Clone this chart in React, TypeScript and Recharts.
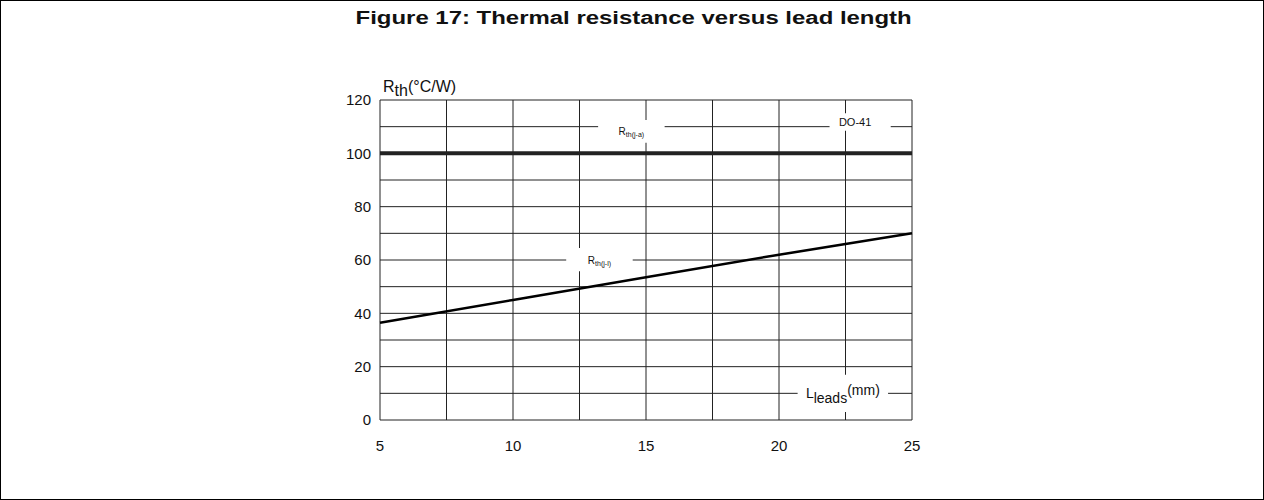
import {
  LineChart,
  Line,
  XAxis,
  YAxis,
  CartesianGrid,
  ReferenceArea,
} from "recharts";

const leadLengths = [5, 10, 15, 20, 25];
const rthJunctionAmbient = [100, 100, 100, 100, 100];
const rthJunctionLead = [36.5, 45, 53.5, 62, 70];
const xGridTicks = [5, 7.5, 10, 12.5, 15, 17.5, 20, 22.5, 25];
const yGridTicks = [0, 10, 20, 30, 40, 50, 60, 70, 80, 90, 100, 110, 120];
const xTickLabels = [5, 10, 15, 20, 25];
const yTickLabels = [0, 20, 40, 60, 80, 100, 120];

const data = leadLengths.map((l, i) => ({
  lead: l,
  ja: rthJunctionAmbient[i],
  jl: rthJunctionLead[i],
}));

const FONT = "'Liberation Sans', Arial, sans-serif";

function BoxLabel(props: any) {
  const { viewBox, main, sub, sup, size = 11, subSize = 7, dx = 0 } = props;
  const { x, y, width, height } = viewBox;
  return (
    <text
      x={x + width / 2 + dx}
      y={y + height / 2}
      textAnchor="middle"
      dominantBaseline="central"
      fontFamily={FONT}
      fontSize={size}
      fill="#111"
    >
      <tspan fill="#111">{main}</tspan>
      {sub && (
        <tspan fill="#111" fontSize={subSize} dy={size * 0.3}>
          {sub}
        </tspan>
      )}
      {sup && (
        <tspan fill="#111" fontSize={size} dy={-size * 0.55}>
          {sup}
        </tspan>
      )}
    </text>
  );
}

function YTitle(props: any) {
  const { viewBox } = props;
  const x = viewBox.x + viewBox.width + 3;
  const y = viewBox.y - 8;
  return (
    <text x={x} y={y} fontFamily={FONT} fontSize={16} fill="#111">
      <tspan>R</tspan>
      <tspan dy={4}>th</tspan>
      <tspan dy={-4}>(°C/W)</tspan>
    </text>
  );
}

export default function App() {
  return (
    <div
      style={{
        position: "absolute",
        left: 0,
        top: 0,
        width: 1264,
        height: 500,
        boxSizing: "border-box",
        border: "1px solid #000",
        background: "#fff",
      }}
    >
      <div
        style={{
          position: "absolute",
          top: 7,
          left: 0,
          width: 1264,
          textAlign: "center",
          fontFamily: FONT,
          fontWeight: "bold",
          fontSize: 18,
          color: "#111",
          transform: "scaleX(1.33)",
          transformOrigin: "630px 0",
        }}
      >
        Figure 17: Thermal resistance versus lead length
      </div>
      <div style={{ position: "absolute", left: -1, top: -1 }}>
        <LineChart
          width={1264}
          height={500}
          data={data}
          margin={{ top: 100, right: 352, left: 340, bottom: 50 }}
        >
          <CartesianGrid stroke="#222" strokeWidth={1} />
          <XAxis
            dataKey="lead"
            type="number"
            domain={[5, 25]}
            ticks={xGridTicks}
            tickFormatter={(v) => (xTickLabels.includes(v) ? String(v) : "")}
            axisLine={false}
            tickLine={false}
            tickMargin={14}
            height={30}
            tick={{ fontFamily: FONT, fontSize: 15, fill: "#111" }}
          />
          <YAxis
            type="number"
            domain={[0, 120]}
            ticks={yGridTicks}
            tickFormatter={(v) => (yTickLabels.includes(v) ? String(v) : "")}
            axisLine={false}
            tickLine={false}
            tickMargin={3}
            width={40}
            tick={{ fontFamily: FONT, fontSize: 15, fill: "#111" }}
            label={<YTitle />}
          />
          <ReferenceArea
            x1={13.2}
            x2={15.7}
            y1={104}
            y2={112.5}
            fill="#fff"
            fillOpacity={1}
            stroke="none"
            label={<BoxLabel main="R" sub="th(j-a)" size={10} subSize={7} />}
          />
          <ReferenceArea
            x1={21.9}
            x2={24.2}
            y1={108.5}
            y2={115}
            fill="#fff"
            fillOpacity={1}
            stroke="none"
            label={<BoxLabel main="DO-41" size={11} dx={-5} />}
          />
          <ReferenceArea
            x1={12.0}
            x2={14.5}
            y1={55.8}
            y2={64.5}
            fill="#fff"
            fillOpacity={1}
            stroke="none"
            label={<BoxLabel main="R" sub="th(j-l)" size={10} subSize={7} />}
          />
          <ReferenceArea
            x1={20.7}
            x2={24.1}
            y1={3}
            y2={17}
            fill="#fff"
            fillOpacity={1}
            stroke="none"
            label={<BoxLabel main="L" sub="leads" sup="(mm)" size={14} subSize={14} />}
          />
          <Line
            dataKey="ja"
            stroke="#222"
            strokeWidth={4}
            dot={false}
            isAnimationActive={false}
          />
          <Line
            dataKey="jl"
            stroke="#000"
            strokeWidth={2.5}
            dot={false}
            isAnimationActive={false}
          />
        </LineChart>
      </div>
    </div>
  );
}
